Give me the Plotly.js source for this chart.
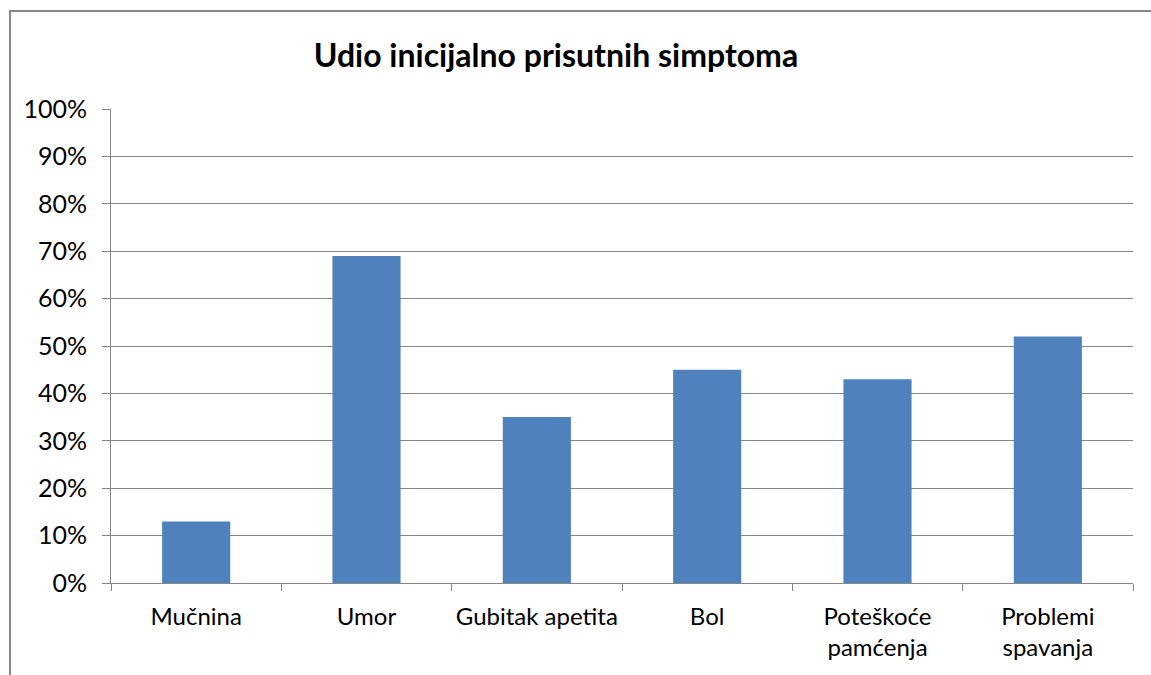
<!DOCTYPE html>
<html>
<head>
<meta charset="utf-8">
<script src="https://cdn.plot.ly/plotly-3.0.1.min.js"></script>
<style>
html,body{margin:0;padding:0;background:#fff;overflow:hidden;}
#frame{position:absolute;left:9px;top:10px;width:1200px;height:700px;border:2px solid #868686;box-sizing:border-box;}
#chart{position:absolute;left:0;top:0;width:1151px;height:675px;}
</style>
</head>
<body>
<div id="frame"></div>
<div id="chart"></div>
<script>
const categories = ["Mučnina", "Umor", "Gubitak apetita", "Bol", "Poteškoće<br>pamćenja", "Problemi<br>spavanja"];
const values = [13, 69, 35, 45, 43, 52];
const yTickValues = [0, 10, 20, 30, 40, 50, 60, 70, 80, 90, 100];
const yTickLabels = ["0%", "10%", "20%", "30%", "40%", "50%", "60%", "70%", "80%", "90%", "100%"];

const data = [{
  type: 'bar',
  x: categories,
  y: values,
  marker: {color: '#4F81BD'},
  width: 0.4,
  hoverinfo: 'x+y'
}];

const layout = {
  width: 1151,
  height: 675,
  paper_bgcolor: 'rgba(0,0,0,0)',
  plot_bgcolor: 'rgba(0,0,0,0)',
  margin: {l: 111, r: 18, t: 109, b: 92},
  font: {family: 'Lato, Carlito, Calibri, sans-serif', size: 25, color: '#000'},
  title: {
    text: '<b>Udio inicijalno prisutnih simptoma</b>',
    font: {family: 'Lato, Carlito, Calibri, sans-serif', size: 32, color: '#000'},
    x: 0.483, xanchor: 'center',
    y: 0.918, yanchor: 'middle'
  },
  showlegend: false,
  xaxis: {
    type: 'category',
    tickson: 'boundaries',
    tickangle: 0,
    ticks: 'outside',
    ticklen: 7,
    tickcolor: '#868686',
    tickwidth: 1,
    showline: true,
    linecolor: '#868686',
    linewidth: 1,
    showgrid: false,
    tickfont: {size: 24},
    ticklabelstandoff: 12,
    automargin: false
  },
  yaxis: {
    range: [0, 100],
    tickmode: 'array',
    tickvals: yTickValues,
    ticktext: yTickLabels,
    ticks: 'outside',
    ticklen: 8,
    tickcolor: '#868686',
    tickwidth: 1,
    showline: true,
    linecolor: '#868686',
    linewidth: 1,
    showgrid: true,
    gridcolor: '#868686',
    gridwidth: 1,
    zeroline: false,
    tickfont: {size: 25},
    ticklabelstandoff: 10,
    automargin: false
  }
};

Plotly.newPlot('chart', data, layout, {displayModeBar: false});
</script>
</body>
</html>
